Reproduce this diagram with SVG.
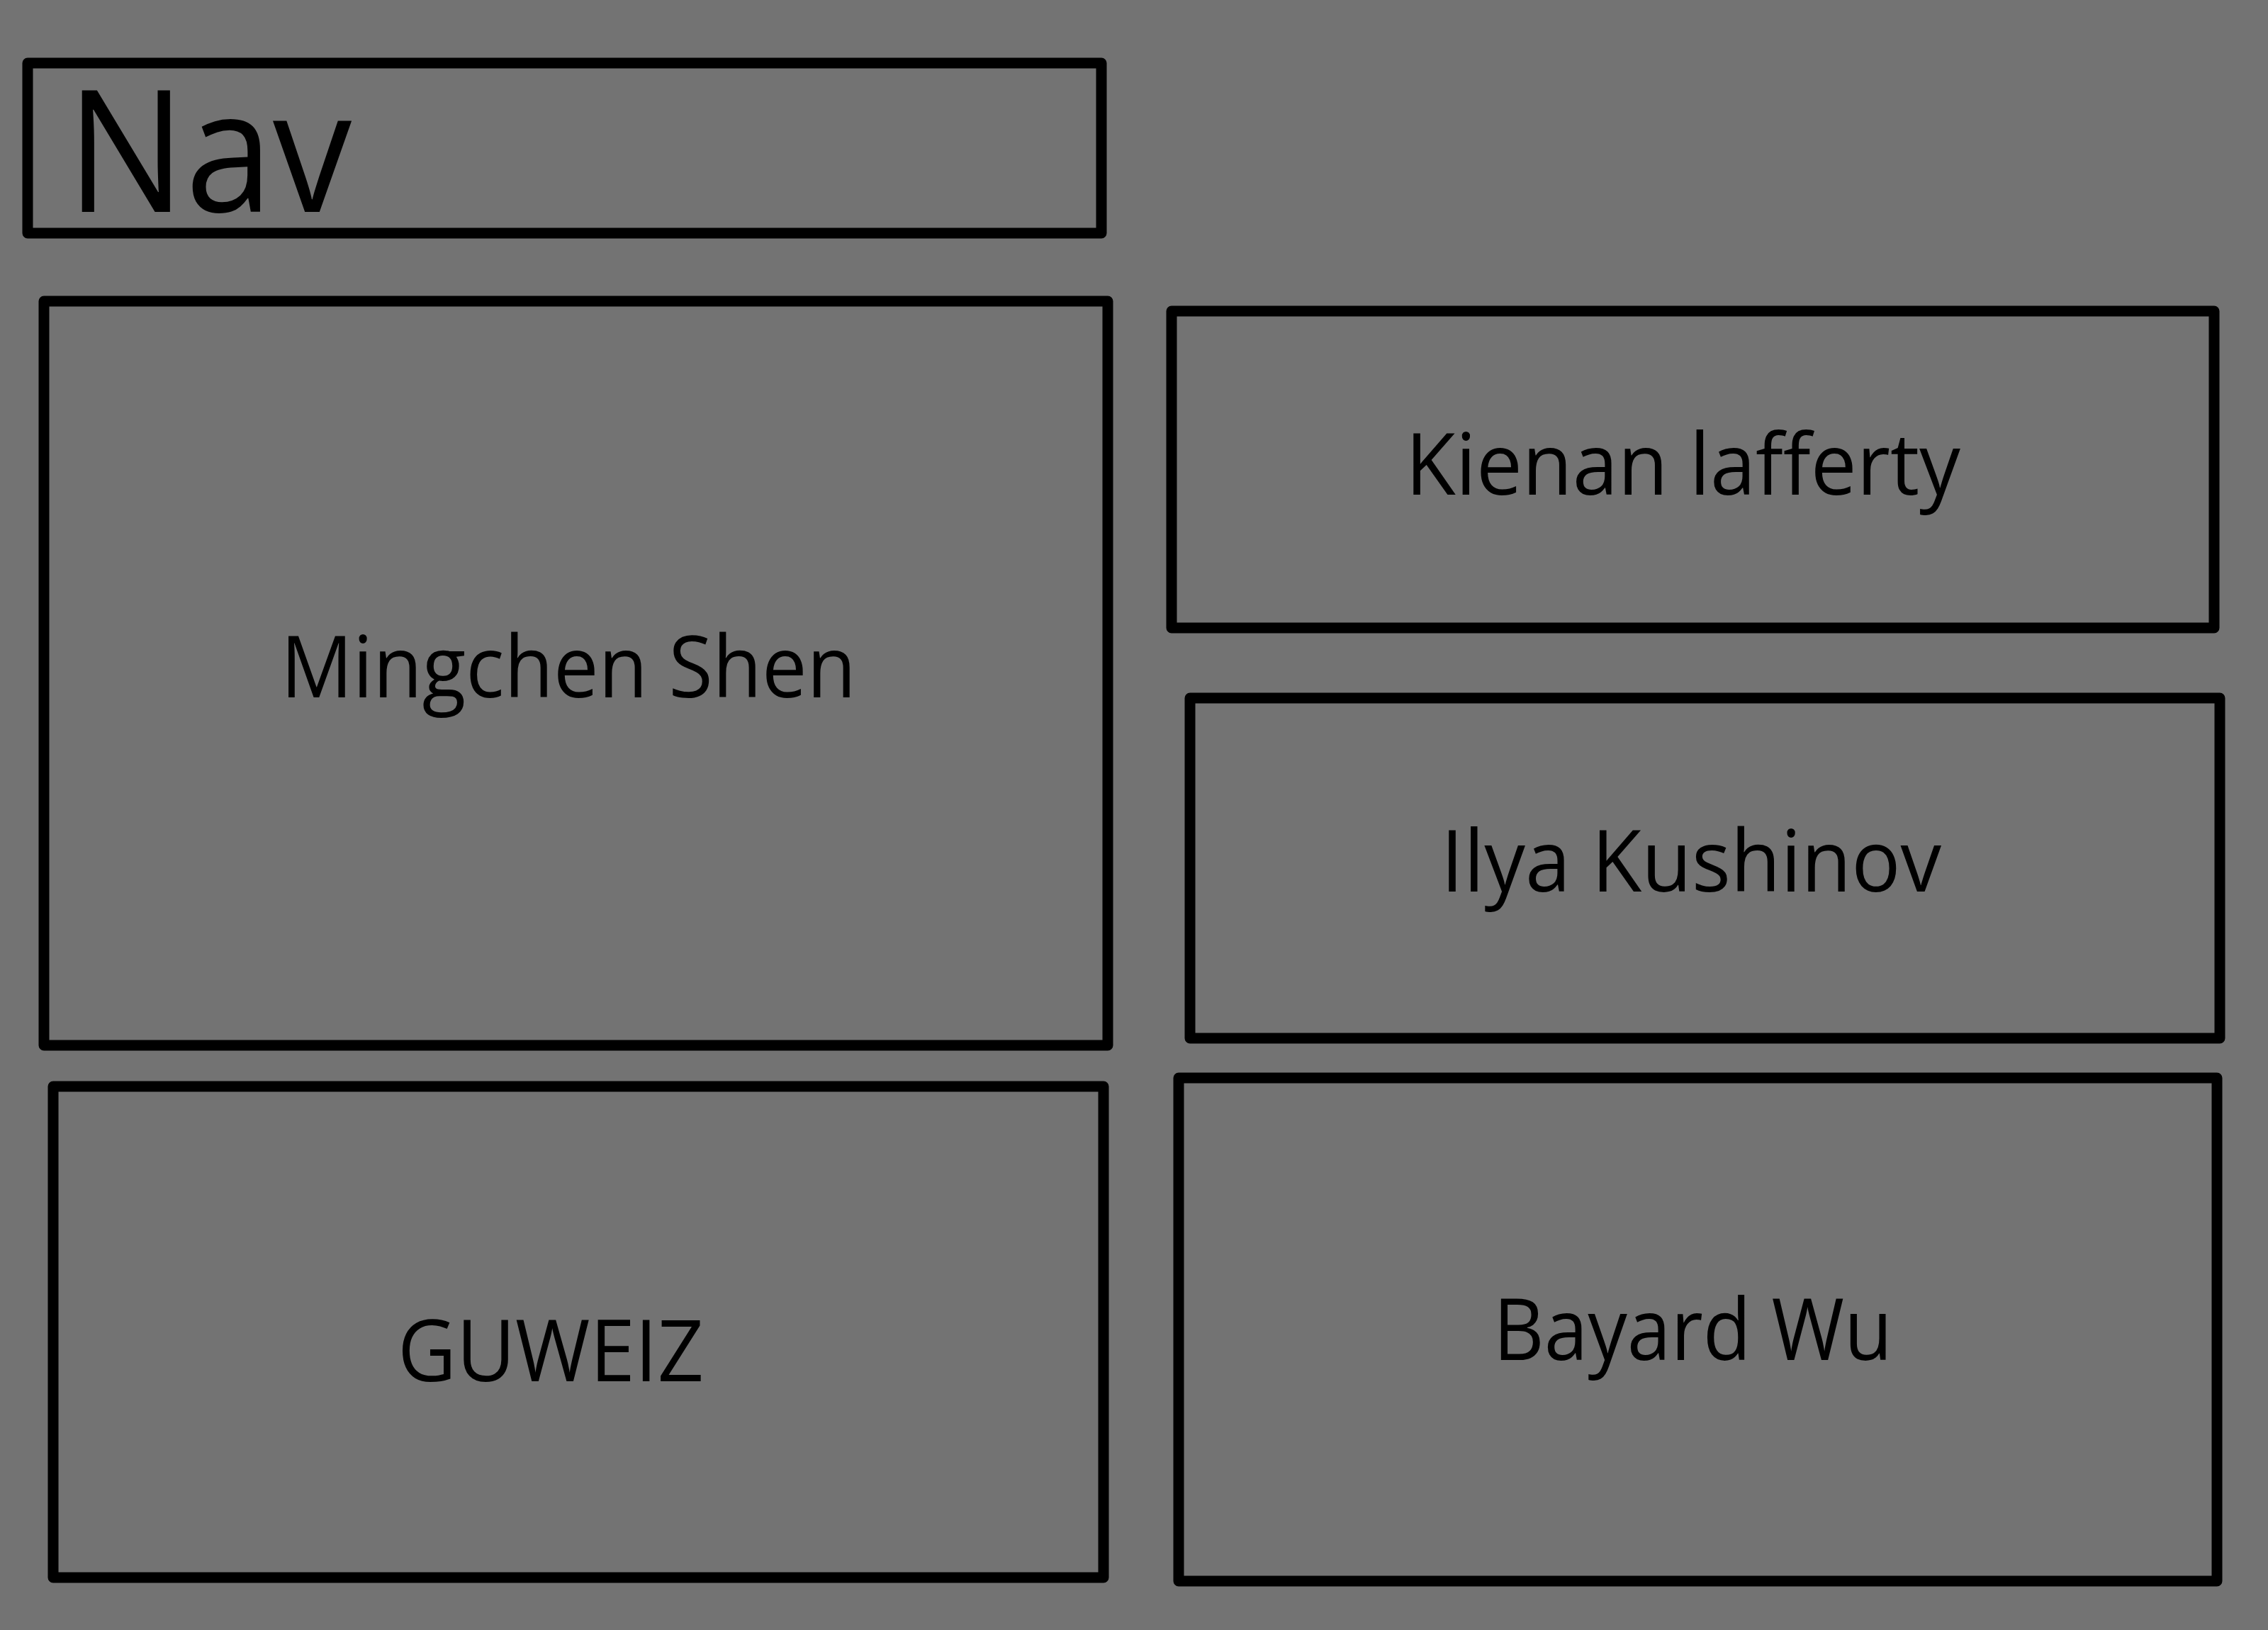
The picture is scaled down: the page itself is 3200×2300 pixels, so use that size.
<svg xmlns="http://www.w3.org/2000/svg" width="3200" height="2300" viewBox="0 0 3200 2300">
<style>
.box{fill:none;stroke:#000;stroke-width:15;stroke-linejoin:round}
.lbl{font-family:"Open Sans","Noto Sans","Liberation Sans",sans-serif;font-size:120px;fill:#000}
.nav{font-family:"Open Sans","Noto Sans","Liberation Sans",sans-serif;font-size:240px;fill:#000}
</style>
<rect x="0" y="0" width="3200" height="2300" fill="#737373"/>
<g id="nav">
<rect class="box" x="39" y="89" width="1515" height="240"/>
<text class="nav" x="94" y="299" textLength="402" lengthAdjust="spacingAndGlyphs">Nav</text>
</g>
<g id="mingchen">
<rect class="box" x="62" y="425" width="1501" height="1050"/>
<text class="lbl" x="396" y="984" textLength="812" lengthAdjust="spacingAndGlyphs">Mingchen Shen</text>
</g>
<g id="guweiz">
<rect class="box" x="75" y="1533" width="1482" height="693"/>
<text class="lbl" x="561" y="1949" textLength="432" lengthAdjust="spacingAndGlyphs">GUWEIZ</text>
</g>
<g id="kienan">
<rect class="box" x="1653" y="439" width="1471" height="447"/>
<text class="lbl" x="1983" y="698" textLength="783" lengthAdjust="spacingAndGlyphs">Kienan lafferty</text>
</g>
<g id="ilya">
<rect class="box" x="1679" y="985" width="1453" height="480"/>
<text class="lbl" x="2033" y="1258" textLength="706" lengthAdjust="spacingAndGlyphs">Ilya Kushinov</text>
</g>
<g id="bayard">
<rect class="box" x="1663" y="1521" width="1465" height="710"/>
<text class="lbl" x="2107" y="1919" textLength="563" lengthAdjust="spacingAndGlyphs">Bayard Wu</text>
</g>
<g id="connectors"></g>
</svg>
